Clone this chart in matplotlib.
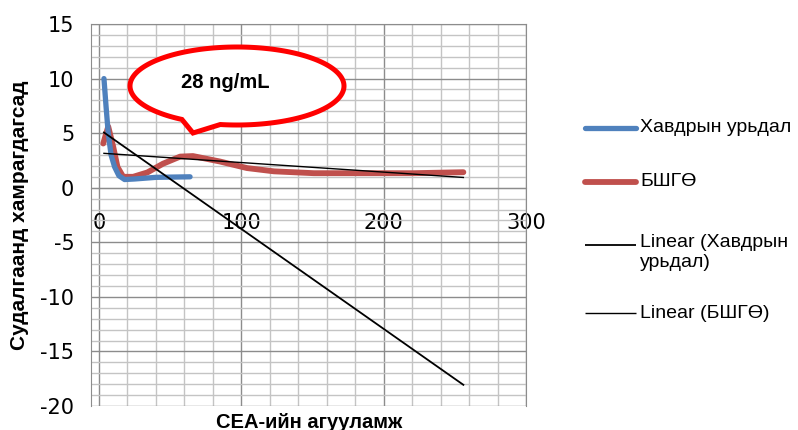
import numpy as np
import matplotlib
matplotlib.use("Agg")
import matplotlib.pyplot as plt
from matplotlib.lines import Line2D
from matplotlib.patches import Polygon
from matplotlib.ticker import MultipleLocator

plt.rcParams["axes.unicode_minus"] = False

# CEA concentration vs. share of patients
cea_tumor = [3.5, 5, 6.5, 8.5, 11, 14, 18, 25, 40, 64]
tumor = [10, 7.4, 5.0, 3.0, 1.9, 1.1, 0.75, 0.8, 0.95, 1.0]

cea_benign = [3, 6.5, 10, 13, 17, 24, 34, 45, 57, 66, 85, 104, 123, 151, 198, 221, 256]
benign = [4.05, 5.6, 3.75, 1.9, 1.0, 1.0, 1.4, 2.2, 2.85, 2.9, 2.4, 1.8, 1.5, 1.33, 1.33, 1.33, 1.42]

# trend lines as drawn (endpoints)
trend_x = [3.5, 256]
trend_tumor = [5.06, -18.06]
trend_benign = [3.15, 0.94]

series_labels = ["Хавдрын урьдал", "БШГӨ", "Linear (Хавдрын\nурьдал)", "Linear (БШГӨ)"]
callout_text = "28 ng/mL"
xlabel = "CEA-ийн агууламж"
ylabel = "Судалгаанд хамрагдагсад"

W, H = 798, 430
fig = plt.figure(figsize=(W / 100, H / 100), dpi=100)
ax = fig.add_axes([91 / W, (H - 406) / H, (526 - 91) / W, (406 - 24) / H])

blue = "#4F81BD"
red = "#C0504D"

ax.plot(cea_tumor, tumor, color=blue, lw=3.8, solid_capstyle="round", zorder=4)
ax.plot(cea_benign, benign, color=red, lw=4.2, solid_capstyle="round", zorder=3)
ax.plot(trend_x, trend_tumor, color="black", lw=1.3, zorder=5)
ax.plot(trend_x, trend_benign, color="black", lw=1.0, zorder=5)

ax.set_xlim(-5.6, 300)
ax.set_ylim(-20, 15)
ax.xaxis.set_major_locator(MultipleLocator(100))
ax.xaxis.set_minor_locator(MultipleLocator(20))
ax.yaxis.set_major_locator(MultipleLocator(5))
ax.yaxis.set_minor_locator(MultipleLocator(1))
ax.grid(which="major", color="#8c8c8c", lw=1.0, zorder=0)
ax.grid(which="minor", color="#c4c4c4", lw=1.0, zorder=0)
ax.set_axisbelow(True)
for s in ax.spines.values():
    s.set_color("#8c8c8c")
# x axis crosses at zero, Excel style
ax.spines["bottom"].set_position(("data", 0))

ax.tick_params(axis="both", which="both", length=0, labelsize=15)
ax.tick_params(axis="y", pad=12)
ax.tick_params(axis="x", pad=18)

fig.text(309 / W, 1 - 422 / H, xlabel, ha="center", va="center",
         family="Liberation Sans", weight="bold", fontsize=14.5)
fig.text(20 / W, 1 - 215 / H, ylabel, ha="center", va="center", rotation=90,
         family="Liberation Sans", weight="bold", fontsize=15)


# speech bubble, in pixel coordinates (y down)
def px(x, y):
    return (x / 100, (H - y) / 100)


cx, cy, a, b = 237, 86, 107, 39
t = np.radians(np.linspace(121, 459, 200))
pts = [px(cx + a * np.cos(v), cy + b * np.sin(v)) for v in t]
pts.append(px(193, 133))
bubble = Polygon(pts, closed=True, facecolor="white", edgecolor="#FF0000", lw=3.6,
                 joinstyle="miter", transform=fig.dpi_scale_trans, zorder=10)
fig.add_artist(bubble)
fig.text(225 / W, 1 - 83 / H, callout_text, ha="center", va="center",
         family="Liberation Sans", weight="bold", fontsize=14.5, zorder=11)

# legend drawn by hand to match the layout
legend_rows = [128, 182, 245, 313]
legend_styles = [(blue, 3.8), (red, 4.2), ("black", 1.3), ("black", 1.0)]
for label, yy, (c, lw) in zip(series_labels, legend_rows, legend_styles):
    fig.add_artist(Line2D([585 / W, 636 / W], [1 - yy / H, 1 - yy / H], color=c, lw=lw,
                          solid_capstyle="round" if lw > 2 else "butt"))
    two_lines = "\n" in label
    fig.text(640 / W, 1 - (yy - 11) / H if two_lines else 1 - yy / H, label,
             ha="left", va="top" if two_lines else "center",
             family="Liberation Sans", fontsize=14, linespacing=1.2)

fig.savefig("out.png", dpi=100)
